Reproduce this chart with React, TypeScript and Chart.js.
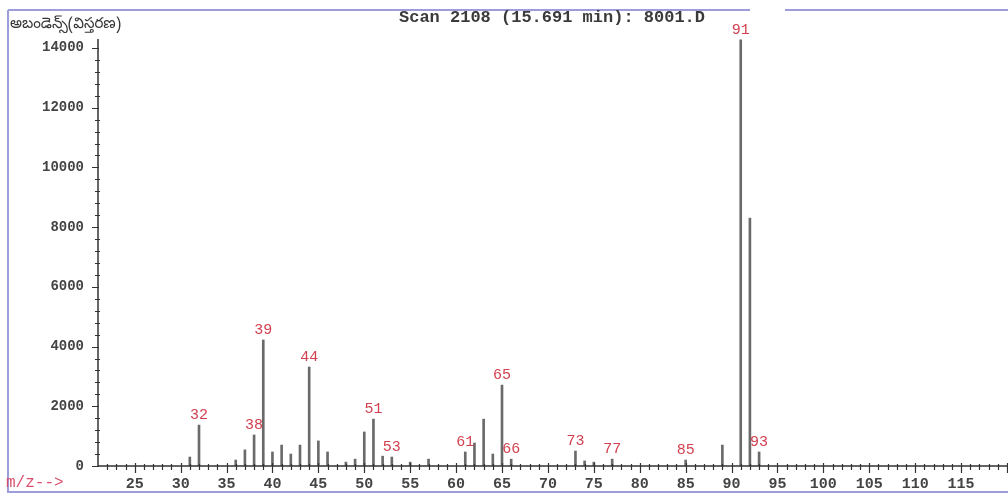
import React, { useEffect, useRef } from "react";
import { Chart, registerables } from "chart.js";

Chart.register(...registerables);

// ---- data ----
const mzValues = [31, 32, 36, 37, 38, 39, 40, 41, 42, 43, 44, 45, 46, 48, 49, 50, 51, 52, 53, 55, 57, 61, 62, 63, 64, 65, 66, 73, 74, 75, 77, 85, 89, 91, 92, 93];
const intensities = [300, 1370, 200, 540, 1040, 4220, 470, 700, 400, 700, 3315, 840, 470, 130, 230, 1140, 1570, 330, 300, 130, 230, 470, 770, 1570, 400, 2710, 230, 500, 170, 130, 230, 200, 700, 14270, 8300, 470];
const labeledPeaks = [32, 38, 39, 44, 51, 53, 61, 65, 66, 73, 77, 85, 91, 93];
const xTickLabels = [25, 30, 35, 40, 45, 50, 55, 60, 65, 70, 75, 80, 85, 90, 95, 100, 105, 110, 115];
const yTickLabels = [0, 2000, 4000, 6000, 8000, 10000, 12000, 14000];
const titleText = "Scan 2108 (15.691 min): 8001.D";
const yAxisTitle = "అబండెన్స్(విస్తరణ)";
const xAxisTitle = "m/z-->";

const X_MIN = 21;
const X_MAX = 120;
const Y_MAX = 14400;

const MONO = "'Liberation Mono', 'DejaVu Sans Mono', monospace";

const decorPlugin = {
  id: "decor",
  afterDraw(chart: any) {
    const ctx = chart.ctx;
    const xs = chart.scales.x;
    const ys = chart.scales.y;
    const area = chart.chartArea;
    ctx.save();

    // frame
    ctx.strokeStyle = "#9d9ddc";
    ctx.lineWidth = 2;
    ctx.beginPath();
    ctx.moveTo(8, 10);
    ctx.lineTo(750, 10);
    ctx.moveTo(785, 10);
    ctx.lineTo(1008, 10);
    ctx.moveTo(8, 10);
    ctx.lineTo(8, 492);
    ctx.lineTo(1008, 492);
    ctx.stroke();

    // axes lines
    const y0 = ys.getPixelForValue(0);
    const xl = area.left;
    ctx.strokeStyle = "#333";
    ctx.lineWidth = 1.5;
    ctx.beginPath();
    ctx.moveTo(xl, area.top + 3);
    ctx.lineTo(xl, y0);
    ctx.lineTo(1008, y0);
    ctx.stroke();

    // x ticks
    ctx.lineWidth = 1.2;
    ctx.beginPath();
    for (let v = X_MIN + 1; v <= X_MAX; v++) {
      const px = Math.round(xs.getPixelForValue(v)) + 0.5;
      if (v % 5 === 0) {
        ctx.moveTo(px, y0 - 3);
        ctx.lineTo(px, y0 + 7);
      } else {
        ctx.moveTo(px, y0 - 2);
        ctx.lineTo(px, y0 + 4);
      }
    }
    // y ticks
    for (let v = 0; v <= 14000; v += 400) {
      const py = Math.round(ys.getPixelForValue(v)) + 0.5;
      if (v % 2000 === 0) {
        ctx.moveTo(xl - 6, py);
        ctx.lineTo(xl + 1, py);
      } else {
        ctx.moveTo(xl - 3, py);
        ctx.lineTo(xl + 2, py);
      }
    }
    ctx.stroke();

    // title
    ctx.fillStyle = "#3a3a3a";
    ctx.font = "bold 17px " + MONO;
    ctx.textAlign = "center";
    ctx.textBaseline = "middle";
    ctx.fillText(titleText, 552, 18);

    // y axis title
    ctx.font = "15px 'Noto Sans Telugu', 'Noto Sans', sans-serif";
    ctx.textAlign = "left";
    ctx.fillStyle = "#333";
    ctx.fillText(yAxisTitle, 10, 26);

    // x axis title
    ctx.font = "16px " + MONO;
    ctx.fillStyle = "#d8506e";
    ctx.fillText(xAxisTitle, 6, 483);

    // peak labels
    const meta = chart.getDatasetMeta(0);
    ctx.font = "15px " + MONO;
    ctx.fillStyle = "#d2404f";
    ctx.textAlign = "center";
    meta.data.forEach((el: any, i: number) => {
      if (labeledPeaks.includes(mzValues[i])) {
        ctx.fillText(String(mzValues[i]), el.x, el.y - 10);
      }
    });
    ctx.restore();
  },
};

export default function App() {
  const canvasRef = useRef<HTMLCanvasElement | null>(null);

  useEffect(() => {
    const canvas = canvasRef.current;
    if (!canvas) return;
    const chart = new Chart(canvas, {
      type: "bar",
      data: {
        datasets: [
          {
            data: mzValues.map((m, i) => ({ x: m, y: intensities[i] })),
            backgroundColor: "#6a6a6a",
            barThickness: 2,
          },
        ],
      },
      options: {
        responsive: false,
        animation: false,
        devicePixelRatio: 1,
        layout: { padding: { top: 36, right: 1, left: 0, bottom: 0 } },
        plugins: {
          legend: { display: false },
          tooltip: { enabled: false },
          title: { display: false },
        },
        scales: {
          x: {
            type: "linear",
            min: X_MIN,
            max: X_MAX,
            offset: false,
            grid: { display: false },
            border: { display: false },
            afterBuildTicks: (scale: any) => {
              scale.ticks = xTickLabels.map((v) => ({ value: v }));
            },
            afterFit: (scale: any) => {
              scale.height = 32;
            },
            ticks: {
              autoSkip: false,
              maxRotation: 0,
              padding: 1,
              color: "#444",
              font: { family: MONO, size: 15, weight: "bold" },
              callback: (v: any) => String(v),
            },
          },
          y: {
            min: 0,
            max: Y_MAX,
            grid: { display: false },
            border: { display: false },
            afterBuildTicks: (scale: any) => {
              scale.ticks = yTickLabels.map((v) => ({ value: v }));
            },
            afterFit: (scale: any) => {
              scale.width = 98;
            },
            ticks: {
              padding: 6,
              color: "#444",
              font: { family: MONO, size: 14, weight: "bold" },
              callback: (v: any) => String(v),
            },
          },
        },
      },
      plugins: [decorPlugin],
    } as any);
    return () => chart.destroy();
  }, []);

  return (
    <div style={{ position: "absolute", left: 0, top: 0, width: 1008, height: 498, background: "#fff" }}>
      <canvas ref={canvasRef} width={1008} height={498} style={{ display: "block" }} />
    </div>
  );
}
